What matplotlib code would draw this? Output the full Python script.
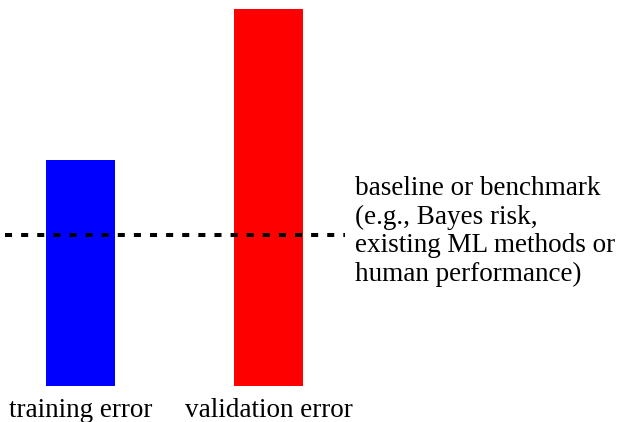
import matplotlib
matplotlib.use("Agg")
import matplotlib.pyplot as plt

categories = ["training error", "validation error"]
errors = [0.60, 1.00]
colors = ["#0000ff", "#ff0000"]
baseline = 0.40
baseline_label = "baseline or benchmark\n(e.g., Bayes risk,\nexisting ML methods or\nhuman performance)"

plt.rcParams['font.family'] = ['Liberation Serif', 'DejaVu Serif']

fig = plt.figure(figsize=(6.2, 4.22), dpi=100)
ax = fig.add_axes([0, 36/422, 1, 377/422])
x = [0, 1]
ax.bar(x, errors, width=69/188, color=colors)
ax.set_xlim(-80.5/188, (620-80.5)/188)
ax.set_ylim(0, 1.0)
ax.plot([(5-80.5)/188, (345-80.5)/188], [baseline, baseline], color='black',
        lw=2.9, dashes=(1.75, 2.25), solid_capstyle='butt', dash_capstyle='butt')
ax.text((355-80.5)/188, 0.41, baseline_label, fontsize=19.5,
        ha='left', va='center', linespacing=1.19)
ax.set_xticks(x)
ax.set_xticklabels(categories, fontsize=19.5)
ax.tick_params(axis='x', length=0, pad=8.5)
ax.set_yticks([])
for s in ax.spines.values():
    s.set_visible(False)
fig.savefig("out.png", dpi=100)
